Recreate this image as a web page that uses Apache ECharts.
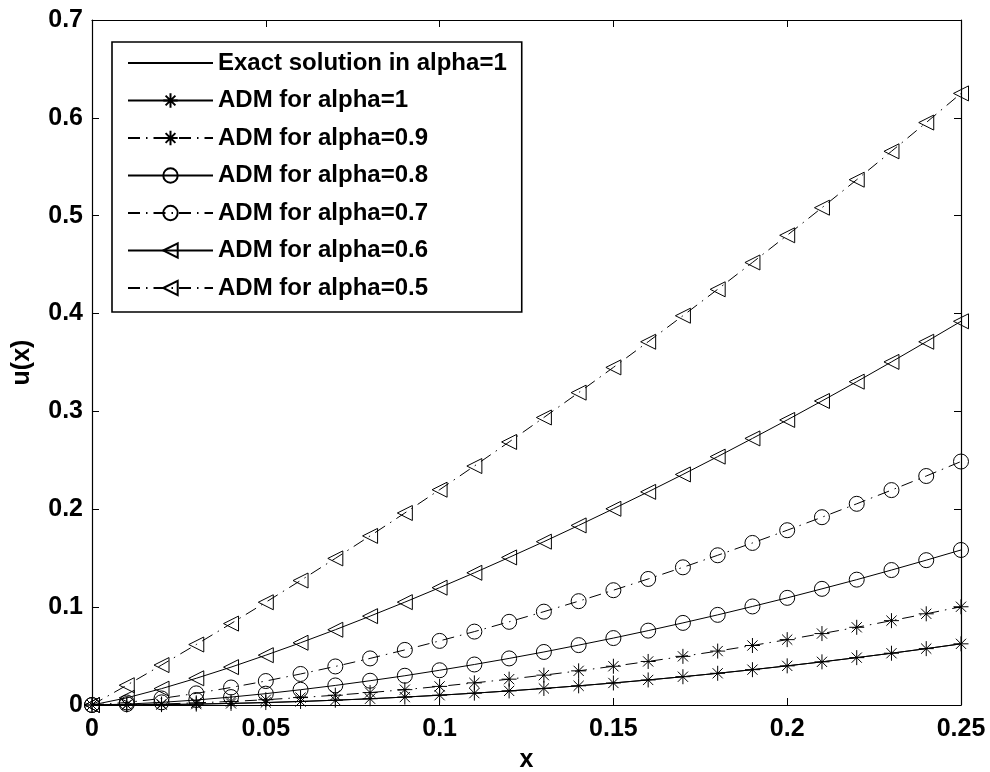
<!DOCTYPE html>
<html>
<head>
<meta charset="utf-8">
<script src="https://cdn.jsdelivr.net/npm/echarts@6/dist/echarts.min.js"></script>
<style>
html,body{margin:0;padding:0;background:#fff;}
#chart{width:990px;height:772px;}
</style>
</head>
<body>
<div id="chart"></div>
<script>
const xValues = [0,0.01,0.02,0.03,0.04,0.05,0.06,0.07,0.08,0.09,0.10,0.11,0.12,0.13,0.14,0.15,0.16,0.17,0.18,0.19,0.20,0.21,0.22,0.23,0.24,0.25];
const exactAlpha1 = [0,0.0001,0.0004,0.0009,0.0016,0.0025,0.0036,0.0049,0.0064,0.0081,0.0100,0.0121,0.0144,0.0169,0.0196,0.0225,0.0256,0.0289,0.0324,0.0361,0.0400,0.0441,0.0484,0.0529,0.0576,0.0625];
const admAlpha10 = [0,0.0001,0.0004,0.0009,0.0016,0.0025,0.0036,0.0049,0.0064,0.0081,0.0100,0.0121,0.0144,0.0169,0.0196,0.0225,0.0256,0.0289,0.0324,0.0361,0.0400,0.0441,0.0484,0.0529,0.0576,0.0625];
const admAlpha09 = [0,0.0003,0.0010,0.0022,0.0036,0.0054,0.0076,0.0100,0.0127,0.0157,0.0190,0.0226,0.0264,0.0305,0.0349,0.0396,0.0445,0.0497,0.0551,0.0608,0.0668,0.0730,0.0794,0.0862,0.0932,0.1004];
const admAlpha08 = [0,0.0009,0.0027,0.0051,0.0081,0.0116,0.0156,0.0200,0.0248,0.0299,0.0355,0.0414,0.0476,0.0542,0.0612,0.0684,0.0760,0.0839,0.0921,0.1007,0.1095,0.1187,0.1281,0.1379,0.1480,0.1584];
const admAlpha07 = [0,0.0026,0.0067,0.0119,0.0179,0.0245,0.0317,0.0394,0.0476,0.0563,0.0655,0.0750,0.0850,0.0954,0.1061,0.1173,0.1288,0.1407,0.1530,0.1656,0.1786,0.1919,0.2056,0.2196,0.2340,0.2488];
const admAlpha06 = [0,0.0073,0.0167,0.0273,0.0387,0.0509,0.0636,0.0769,0.0908,0.1051,0.1199,0.1351,0.1508,0.1669,0.1835,0.2005,0.2178,0.2356,0.2538,0.2724,0.2913,0.3107,0.3304,0.3506,0.3712,0.3921];
const admAlpha05 = [0,0.0202,0.0408,0.0618,0.0832,0.1050,0.1272,0.1498,0.1728,0.1962,0.2200,0.2442,0.2688,0.2938,0.3192,0.3450,0.3712,0.3978,0.4248,0.4522,0.4800,0.5082,0.5368,0.5658,0.5952,0.6250];
const xTicks = [0,0.05,0.1,0.15,0.2,0.25];
const yTicks = [0,0.1,0.2,0.3,0.4,0.5,0.6,0.7];
const seriesNames = ['Exact solution in alpha=1','ADM for alpha=1','ADM for alpha=0.9','ADM for alpha=0.8','ADM for alpha=0.7','ADM for alpha=0.6','ADM for alpha=0.5'];

const pairs = ys => xValues.map((x,i)=>[x, ys[i]]);
const FONT = '"Liberation Sans", Arial, sans-serif';
const STAR = 'path://M5,0 L5,10 M0,5 L10,5 M1.6,1.6 L8.4,8.4 M1.6,8.4 L8.4,1.6';
const TRI = 'path://M0,5 L10,0 L10,10 Z';
const DASHDOT = [12, 6, 1.5, 6];

function mk(name, ys, symbol, size, dash){
  return {
    name: name, type: 'line', data: pairs(ys), clip: false,
    symbol: symbol || 'none', symbolSize: size || 0, showSymbol: !!symbol,
    lineStyle: {color:'#000', width:1, type: dash || 'solid'},
    itemStyle: symbol ? {color:'rgba(0,0,0,0)', borderColor:'#000', borderWidth:1}
                      : {color:'rgba(0,0,0,0)', borderColor:'rgba(0,0,0,0)', borderWidth:0},
    emphasis: {disabled:true}, animation:false
  };
}

const chart = echarts.init(document.getElementById('chart'), null, {renderer:'canvas'});
const axisCommon = {
  type:'value',
  axisLine:{show:true, onZero:false, lineStyle:{color:'#000', width:1.2}},
  axisTick:{show:true, inside:true, length:7, lineStyle:{color:'#000', width:1}},
  splitLine:{show:false}
};
const labelFont = {fontFamily:FONT, fontWeight:'bold', fontSize:25, color:'#000'};
chart.setOption({
  backgroundColor:'#fff',
  animation:false,
  grid:{left:92, right:29, top:20, bottom:67, containLabel:false, outerBoundsMode:'none'},
  legend:{
    left:112, top:42, orient:'vertical',
    data: seriesNames,
    itemWidth:85, itemHeight:18, itemGap:11.5,
    padding:[8,15,11,15],
    backgroundColor:'#fff', borderColor:'#000', borderWidth:1.6, borderRadius:0,
    textStyle:{fontFamily:FONT, fontWeight:'bold', fontSize:24, color:'#000', lineHeight:26},
    selectedMode:false
  },
  xAxis:[
    Object.assign({}, axisCommon, {
      min:0, max:0.25, interval:0.05, position:'bottom',
      name:'x', nameLocation:'middle', nameGap:43,
      nameTextStyle:labelFont,
      axisLabel:Object.assign({margin:12,
        formatter: v => { const t = xTicks.find(k=>Math.abs(k-v)<1e-9); return t===undefined? '' : String(t); }}, labelFont)
    }),
    Object.assign({}, axisCommon, {min:0, max:0.25, interval:0.05, position:'top', axisLabel:{show:false}})
  ],
  yAxis:[
    Object.assign({}, axisCommon, {
      min:0, max:0.7, interval:0.1, position:'left',
      name:'u(x)', nameLocation:'middle', nameGap:57, nameRotate:90,
      nameTextStyle:labelFont,
      axisLabel:Object.assign({margin:9,
        formatter: v => { const t = yTicks.find(k=>Math.abs(k-v)<1e-9); return t===undefined? '' : String(t); }}, labelFont)
    }),
    Object.assign({}, axisCommon, {min:0, max:0.7, interval:0.1, position:'right', axisLabel:{show:false}})
  ],
  series:[
    mk(seriesNames[0], exactAlpha1, null, 0, 'solid'),
    mk(seriesNames[1], admAlpha10, STAR, 15, 'solid'),
    mk(seriesNames[2], admAlpha09, STAR, 15, DASHDOT),
    mk(seriesNames[3], admAlpha08, 'circle', 15, 'solid'),
    mk(seriesNames[4], admAlpha07, 'circle', 15, DASHDOT),
    mk(seriesNames[5], admAlpha06, TRI, 15, 'solid'),
    mk(seriesNames[6], admAlpha05, TRI, 15, DASHDOT)
  ]
});
</script>
</body>
</html>
